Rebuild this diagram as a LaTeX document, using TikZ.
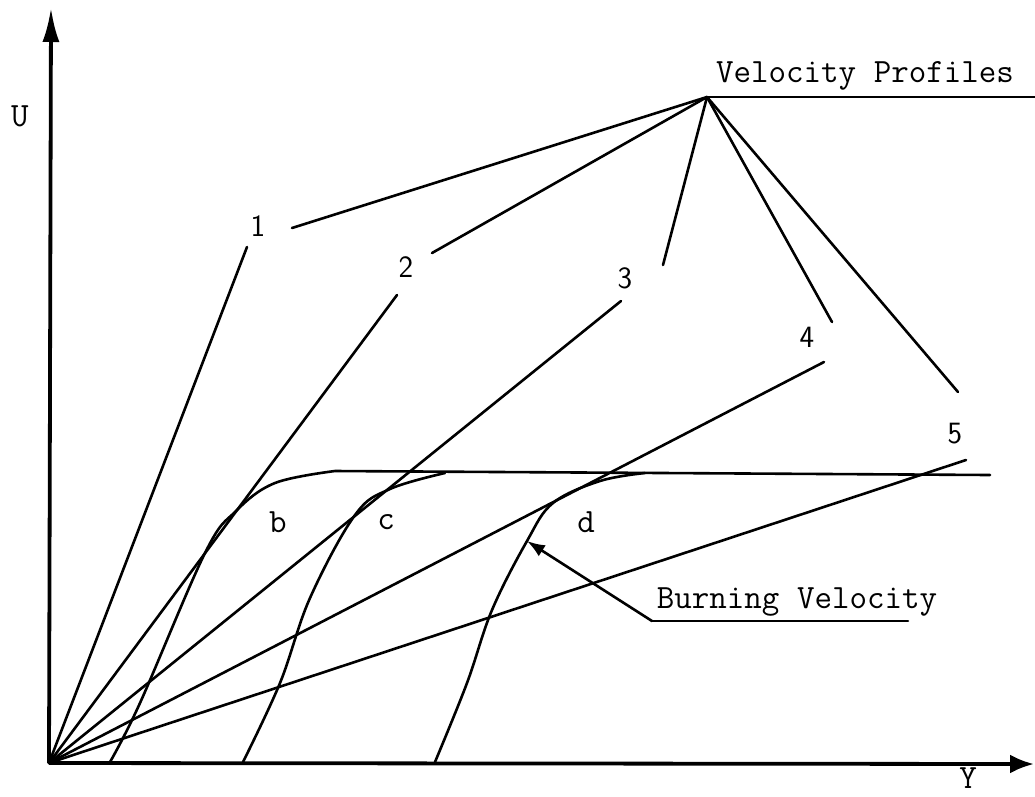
\documentclass[tikz,border=0pt]{standalone}
\usetikzlibrary{arrows.meta}
\begin{document}
\begin{tikzpicture}[x=1pt,y=-1pt,
  prof/.style={line width=2.6pt, line cap=round, line join=round},
  axisline/.style={line width=3.8pt},
  tt/.style={font=\fontsize{34}{38}\selectfont\ttfamily, inner sep=0pt},
  hand/.style={font=\fontsize{31}{35}\selectfont\sffamily, inner sep=0pt}]
\useasboundingbox (0,0) rectangle (1035,796);
% axes
\coordinate (O) at (49,763);
\coordinate (Utop) at (51,8);
\coordinate (Yend) at (1034,764);
\draw[axisline,-{Latex[length=34pt,width=17pt]}] (O) -- (Utop);
\draw[axisline,-{Latex[length=24pt,width=19pt]}] (O) -- (Yend);
\node[tt] (U) at (20,116) {U};
\node[tt] (Y) at (968,778) {Y};
% velocity profiles (lines from origin)
\coordinate (L1) at (247,247);
\coordinate (L2) at (397,295);
\coordinate (L3) at (621,301);
\coordinate (L4) at (824,362);
\coordinate (L5) at (966,460);
\foreach \p in {L1,L2,L3,L4,L5} \draw[prof] (O) -- (\p);
% profile labels
\node[hand] (n1) at (258,226) {1};
\node[hand] (n2) at (406,267) {2};
\node[hand] (n3) at (625,278) {3};
\node[hand] (n4) at (807,337) {4};
\node[hand] (n5) at (955,434) {5};
% Velocity Profiles leader
\node[tt] (vp) at (865,76) {Velocity Profiles};
\coordinate (H) at (707,97);
\coordinate (HR) at (1035,97);
\coordinate (e1) at (292,228);
\coordinate (e2) at (432,253);
\coordinate (e3) at (663,265);
\coordinate (e4) at (832,322);
\coordinate (e5) at (958,392);
\draw[prof] (HR) -- (H);
\foreach \e in {e1,e2,e3,e4,e5} \draw[prof] (H) -- (\e);
% burning velocity curves
\coordinate (Hend) at (990,475);
\draw[prof] plot[smooth,tension=0.6] coordinates {(110,762) (140,703) (205,553) (236,511) (275,483) (335,471)} -- (Hend);
\draw[prof] plot[smooth,tension=0.6] coordinates {(243,762) (280,683) (310,598) (355,515) (390,489) (445,473)};
\draw[prof] plot[smooth,tension=0.6] coordinates {(435,762) (467,683) (492,610) (527,541) (553,503) (600,481) (645,473)};
\node[tt] (b) at (278,522) {b};
\node[tt] (c) at (386,522) {c};
\node[tt] (d) at (586,522) {d};
% Burning Velocity label
\node[tt] (bv) at (797,602) {Burning Velocity};
\coordinate (bvL) at (652,621);
\coordinate (bvR) at (908,621);
\coordinate (bvT) at (527,541);
\draw[prof] (bvR) -- (bvL);
\draw[prof,-{Latex[length=18pt,width=13pt]}] (bvL) -- (bvT);
\end{tikzpicture}
\end{document}
